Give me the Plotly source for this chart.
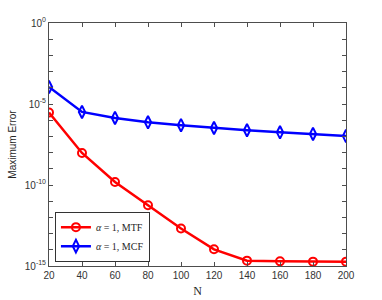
import plotly.graph_objects as go

N = [20, 40, 60, 80, 100, 120, 140, 160, 180, 200]
log_err_mtf = [-5.53, -8.02, -9.81, -11.25, -12.69, -13.97, -14.67, -14.71, -14.73, -14.73]
log_err_mcf = [-3.95, -5.49, -5.86, -6.13, -6.31, -6.48, -6.62, -6.75, -6.85, -6.98]
err_mtf = [10 ** v for v in log_err_mtf]
err_mcf = [10 ** v for v in log_err_mcf]

series_names = ["<i>α</i> = 1, MTF", "<i>α</i> = 1, MCF"]
x_ticks = [20, 40, 60, 80, 100, 120, 140, 160, 180, 200]
y_major = [0, -5, -10, -15]

fig = go.Figure()
fig.add_trace(go.Scatter(
    x=N, y=err_mtf, mode="lines+markers", name=series_names[0],
    line=dict(color="#ff0000", width=2.5),
    marker=dict(symbol="circle-open", size=8, color="#ff0000", line=dict(width=2)),
))
fig.add_trace(go.Scatter(
    x=N, y=err_mcf, mode="lines+markers", name=series_names[1],
    line=dict(color="#0000ff", width=2.5),
    marker=dict(symbol="diamond-tall-open", size=9, color="#0000ff", line=dict(width=2)),
))

yvals = [10.0 ** e for e in range(0, -16, -1)]
ytext = [("10<sup>%d</sup>" % e) if e in y_major else "" for e in range(0, -16, -1)]

axis_common = dict(
    showline=True, linecolor="#4d4d4d", linewidth=1, mirror="allticks",
    ticks="inside", ticklen=4, tickcolor="#4d4d4d", showgrid=False, zeroline=False,
    automargin=False,
    tickfont=dict(family="Liberation Sans, Arial, sans-serif", size=10, color="#333333"),
)

fig.update_xaxes(range=[20, 200], tickvals=x_ticks,
                 title=dict(text="N", font=dict(family="Liberation Serif, serif", size=12, color="#262626"), standoff=6),
                 **axis_common)
fig.update_yaxes(type="log", range=[-15, 0], tickvals=yvals, ticktext=ytext,
                 title=dict(text="Maximum Error", font=dict(family="Liberation Sans, Arial, sans-serif", size=10, color="#262626"), standoff=6),
                 **axis_common)

fig.update_layout(
    width=382, height=300,
    margin=dict(l=49, r=36, t=23, b=34),
    plot_bgcolor="white", paper_bgcolor="white",
    showlegend=True,
    legend=dict(x=0.02, y=0.018, xanchor="left", yanchor="bottom",
                bgcolor="white", bordercolor="#333333", borderwidth=1,
                font=dict(family="Liberation Serif, serif", size=10, color="#262626"),
                tracegroupgap=0, itemwidth=30),
)

fig.write_html("out.html", config={"displayModeBar": False},
               post_script="document.body.style.margin='0px';document.body.style.overflow='hidden';")
